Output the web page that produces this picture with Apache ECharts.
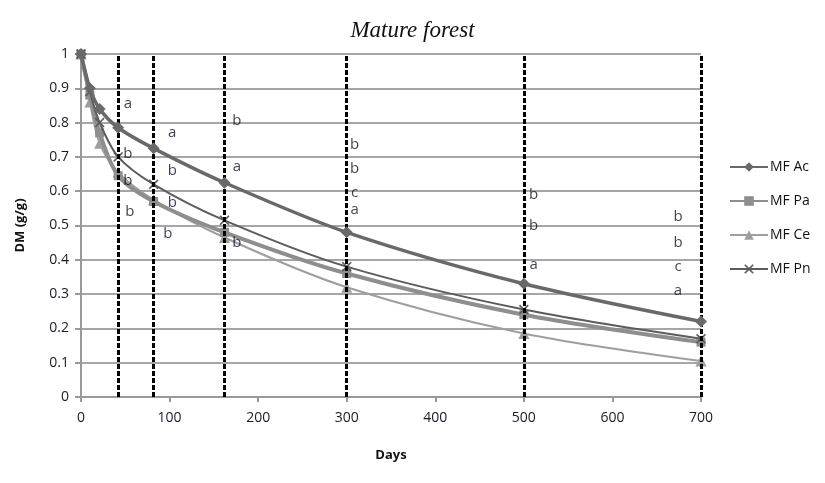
<!DOCTYPE html>
<html>
<head>
<meta charset="utf-8">
<script src="https://cdn.jsdelivr.net/npm/echarts@6/dist/echarts.min.js"></script>
<style>
  html, body { margin: 0; padding: 0; background: #fff; }
  #chart { width: 825px; height: 483px; }
</style>
</head>
<body>
<div id="chart"></div>
<script>
// 取样天数
const days = [0, 10, 21, 42, 82, 162, 300, 500, 700];
// 各树种残留干物质 (g/g)
const mfAc = [1.0, 0.90, 0.84, 0.785, 0.725, 0.625, 0.48, 0.33, 0.22];
const mfPa = [1.0, 0.88, 0.77, 0.645, 0.57, 0.48, 0.36, 0.24, 0.16];
const mfCe = [1.0, 0.86, 0.74, 0.655, 0.575, 0.465, 0.32, 0.185, 0.105];
const mfPn = [1.0, 0.89, 0.80, 0.70, 0.62, 0.515, 0.38, 0.255, 0.17];
// 虚线位置
const dashDays = [42, 82, 162, 300, 500, 700];
// 显著性字母 [x, y, 字母]
const letters = [
  [53, 0.855, 'a'], [53, 0.71, 'b'], [53, 0.63, 'b'], [55, 0.54, 'b'],
  [103, 0.77, 'a'], [103, 0.66, 'b'], [103, 0.565, 'b'], [98, 0.475, 'b'],
  [176, 0.805, 'b'], [176, 0.67, 'a'], [176, 0.45, 'b'],
  [309, 0.735, 'b'], [309, 0.665, 'b'], [309, 0.595, 'c'], [309, 0.545, 'a'],
  [511, 0.59, 'b'], [511, 0.50, 'b'], [511, 0.385, 'a'],
  [674, 0.525, 'b'], [674, 0.45, 'b'], [674, 0.38, 'c'], [674, 0.31, 'a']
];

const chart = echarts.init(document.getElementById('chart'));
const cross = 'path://M0,1.2L1.2,0L5,3.8L8.8,0L10,1.2L6.2,5L10,8.8L8.8,10L5,6.2L1.2,10L0,8.8L3.8,5Z';
const pts = arr => days.map((d, i) => [d, arr[i]]);

const option = {
  animation: false,
  title: {
    text: 'Mature forest',
    left: 'center',
    top: 14,
    textStyle: { fontFamily: 'Liberation Serif', fontStyle: 'italic', fontWeight: 'normal', fontSize: 23, color: '#111' }
  },
  grid: { left: 81, right: 124, top: 54, bottom: 86 },
  legend: {
    data: ['MF Ac', 'MF Pa', 'MF Ce', 'MF Pn'],
    orient: 'vertical',
    left: 724,
    top: 155,
    itemGap: 20,
    itemWidth: 38,
    itemHeight: 12,
    textStyle: { fontFamily: 'Open Sans', fontSize: 14, color: '#111', padding: [0, 0, 0, -3] }
  },
  xAxis: {
    type: 'value',
    min: 0, max: 700, interval: 100,
    name: 'Days',
    nameLocation: 'middle',
    nameGap: 52,
    nameTextStyle: { fontFamily: 'Open Sans', fontWeight: 'bold', fontSize: 13, color: '#111' },
    axisLine: { show: true, lineStyle: { color: '#999', width: 2 } },
    axisTick: { show: true, length: 5, lineStyle: { color: '#999', width: 2 } },
    axisLabel: { fontFamily: 'Open Sans', fontSize: 14, color: '#1a1a2a', margin: 14 },
    splitLine: { show: false }
  },
  yAxis: {
    type: 'value',
    min: 0, max: 1, interval: 0.1,
    name: 'DM (g/g)',
    nameLocation: 'middle',
    nameGap: 54,
    nameTextStyle: { fontFamily: 'Open Sans', fontWeight: 'bold', fontSize: 13, color: '#111' },
    axisLine: { show: true, lineStyle: { color: '#999', width: 2 } },
    axisTick: { show: true, length: 6, lineStyle: { color: '#999', width: 2 } },
    axisLabel: { fontFamily: 'Open Sans', fontSize: 14, color: '#1a1a2a', margin: 12,
      formatter: v => Math.round(v * 10) / 10 },
    splitLine: { show: true, lineStyle: { color: '#a6a6a6', width: 2 } }
  },
  series: [
    {
      name: 'MF Ac', type: 'line', smooth: 0.3, data: pts(mfAc),
      symbol: 'diamond', symbolSize: 12,
      lineStyle: { color: '#696969', width: 3.5 },
      itemStyle: { color: '#696969' },
      z: 5,
      markLine: {
        silent: true, symbol: 'none', label: { show: false },
        lineStyle: { color: '#000', type: [5, 2], width: 3 },
        data: dashDays.map(d => ({ xAxis: d }))
      }
    },
    {
      name: 'MF Pa', type: 'line', smooth: 0.3, data: pts(mfPa),
      symbol: 'rect', symbolSize: 9,
      lineStyle: { color: '#8e8e8e', width: 4 },
      itemStyle: { color: '#8e8e8e' },
      z: 3
    },
    {
      name: 'MF Ce', type: 'line', smooth: 0.3, data: pts(mfCe),
      symbol: 'triangle', symbolSize: 11,
      lineStyle: { color: '#9e9e9e', width: 2 },
      itemStyle: { color: '#9e9e9e' },
      z: 2
    },
    {
      name: 'MF Pn', type: 'line', smooth: 0.3, data: pts(mfPn),
      symbol: cross, symbolSize: 10,
      lineStyle: { color: '#5c5c5c', width: 2 },
      itemStyle: { color: '#5c5c5c' },
      z: 4
    },
    {
      name: 'letters', type: 'scatter', data: letters,
      symbolSize: 1, itemStyle: { color: 'rgba(0,0,0,0)' },
      label: {
        show: true, position: 'inside',
        formatter: p => p.data[2],
        fontFamily: 'Open Sans', fontSize: 15, color: '#140c28'
      },
      z: 6
    }
  ]
};

chart.setOption(option);
</script>
</body>
</html>
